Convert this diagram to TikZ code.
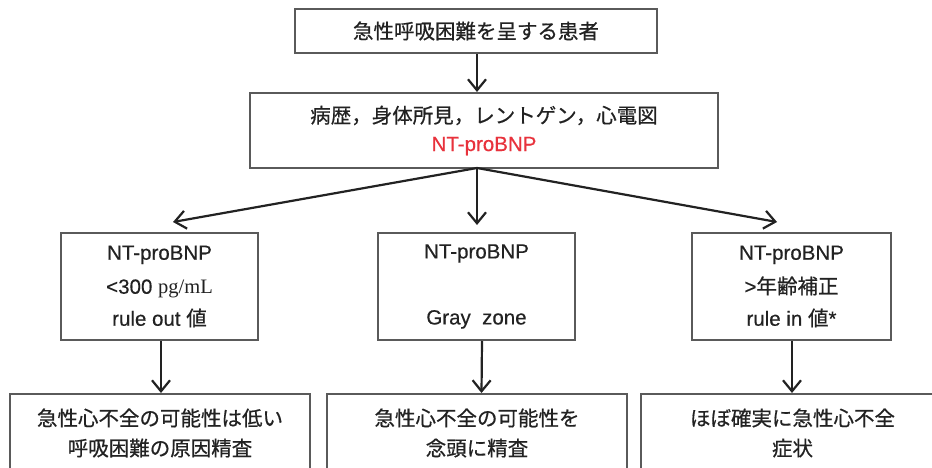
\documentclass[tikz,border=0pt]{standalone}
\usepackage{fontspec}
\setmainfont[FakeBold=0.4]{Liberation Sans}
\newfontfamily\cjk[FakeBold=0.6]{Noto Sans CJK JP}
\newfontfamily\tms{Liberation Serif}
\usetikzlibrary{arrows.meta,calc}
\definecolor{boxgray}{HTML}{5A5A5A}
\definecolor{txt}{HTML}{222222}
\definecolor{nred}{HTML}{E8323C}
\begin{document}
\begin{tikzpicture}[x=1pt,y=-1pt,
  box/.style={draw=boxgray,line width=2pt,fill=white,inner sep=0pt,align=center,text=txt,
    font=\fontsize{20.5}{32}\selectfont},
  arr/.style={draw=txt,line width=2.2pt,-{Straight Barb[length=11pt,width=18pt,line width=2.2pt]}}]
\useasboundingbox (0,0) rectangle (932,468);
\fill[white] (0,0) rectangle (932,468);
% top
\node[box,minimum width=362pt,minimum height=44pt] (top) at (476,31) {\cjk 急性呼吸困難を呈する患者};
\node[box,minimum width=468pt,minimum height=75pt] (b2) at (484,130.5)
  {\raisebox{-4pt}{\cjk 病歴，身体所見，レントゲン，心電図}\\\textcolor{nred}{NT-proBNP}};
% middle row
\node[box,minimum width=197pt,minimum height=107pt] (L) at (159.5,286.5)
  {NT-proBNP\\[2pt]<300 {\tms pg/mL}\\rule out {\cjk 値}};
\node[box,minimum width=197pt,minimum height=107pt] (M) at (476.5,286.5)
  {NT-proBNP\\[2pt]\mbox{}\\Gray\ \ zone};
\node[box,minimum width=199pt,minimum height=107pt] (R) at (791.5,286.5)
  {NT-proBNP\\[2pt]>{\cjk 年齢補正}\\rule in {\cjk 値}*};
% bottom row
\node[box,minimum width=300pt,minimum height=78pt,font=\fontsize{20.5}{30}\selectfont] (BL) at (160,433)
  {\cjk 急性心不全の可能性は低い\\\cjk 呼吸困難の原因精査};
\node[box,minimum width=300pt,minimum height=78pt,font=\fontsize{20.5}{30}\selectfont] (BM) at (477,433)
  {\cjk 急性心不全の可能性を\\\cjk 念頭に精査};
\node[box,minimum width=303pt,minimum height=78pt,font=\fontsize{20.5}{30}\selectfont] (BR) at (792.5,433)
  {\cjk ほぼ確実に急性心不全\\\cjk 症状};
% connectors
\coordinate (b2s) at (477,168);
\coordinate (lt) at (173,222);
\coordinate (mt) at (477,225);
\coordinate (rt) at (777,222);
\draw[arr] (top.south -| b2s) -- (b2.north -| b2s);
\draw[arr] (b2s) -- (lt);
\draw[arr] (b2s) -- (mt);
\draw[arr] (b2s) -- (rt);
\draw[arr] ($(L.south)+(1.5,0)$) -- ($(BL.north)+(1,0)$);
\draw[arr] ($(M.south)+(5.5,0)$) -- ($(BM.north)+(4.5,0)$);
\draw[arr] ($(R.south)+(0.5,0)$) -- ($(BR.north)+(-0.5,0)$);
\end{tikzpicture}
\end{document}
